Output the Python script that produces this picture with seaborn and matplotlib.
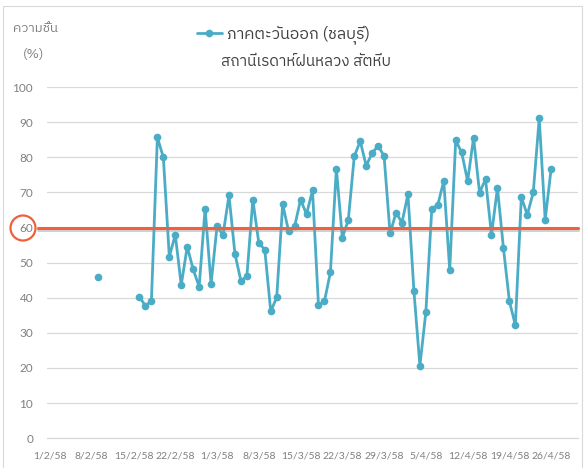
import numpy as np
import pandas as pd
import matplotlib
matplotlib.use("Agg")
import matplotlib.pyplot as plt
import matplotlib.patheffects as pe
from matplotlib.patches import Ellipse, Rectangle
from matplotlib import font_manager as fm
import seaborn as sns

# ความชื้นสัมพัทธ์ (%) สถานีเรดาห์ฝนหลวง สัตหีบ (ก.พ. - เม.ย. 2558)
single_day = "2015-02-09"
single_value = 46
run_start = "2015-02-16"
run_values = [
    40.2, 37.7, 39.1, 85.7, 80.0, 51.7, 57.9, 43.6, 54.5, 48.1,
    43.1, 65.4, 43.9, 60.4, 57.8, 69.2, 52.5, 44.8, 46.1, 67.9,
    55.6, 53.7, 36.1, 40.1, 66.6, 58.9, 60.3, 67.9, 63.8, 70.6,
    37.9, 39.0, 47.2, 76.8, 57.1, 62.1, 80.3, 84.6, 77.6, 81.2,
    83.3, 80.3, 58.3, 64.2, 61.4, 69.5, 41.9, 20.6, 35.9, 65.4,
    66.4, 73.3, 47.9, 84.8, 81.4, 73.2, 85.6, 69.9, 73.8, 57.9,
    71.3, 54.2, 39.0, 32.2, 68.7, 63.6, 70.0, 91.1, 62.2, 76.8,
]
axis_start = "2015-02-01"
axis_end = "2015-04-30"
tick_labels = ["1/2/58", "8/2/58", "15/2/58", "22/2/58", "1/3/58", "8/3/58",
               "15/3/58", "22/3/58", "29/3/58", "5/4/58", "12/4/58",
               "19/4/58", "26/4/58"]
y_ticks = [0, 10, 20, 30, 40, 50, 60, 70, 80, 90, 100]
threshold = 60

legend_label = "ภาคตะวันออก (ชลบุรี)"
title_text = "สถานีเรดาห์ฝนหลวง สัตหีบ"
ylabel_top = "ความชื้น"
ylabel_bottom = "(%)"

LINE = "#4BACC6"
RED = "#F0603C"
GRID = "#D9D9D9"
GREY = "#808080"
DARK = "#404040"


def find_thai_font():
    """หาฟอนต์ที่มีอักษรไทยในเครื่อง"""
    try:
        from fontTools.ttLib import TTFont
    except ImportError:
        return None
    found = []
    for f in fm.fontManager.ttflist:
        try:
            cmap = TTFont(f.fname, fontNumber=0, lazy=True).getBestCmap()
        except Exception:
            continue
        if cmap and 0x0E01 in cmap and 0x0E27 in cmap:
            found.append(f.name)
    if not found:
        return None
    pref = [n for n in found if "Thai" in n and "Looped" not in n]
    return (pref or found)[0]


thai = find_thai_font()
sns.set_style("white")
num_family = ["Lato", "DejaVu Sans"]
text_family = ([thai] if thai else []) + ["Noto Sans", "DejaVu Sans"]
plt.rcParams["font.family"] = num_family

run_dates = pd.date_range(run_start, periods=len(run_values), freq="D")
df = pd.DataFrame({
    "date": [pd.Timestamp(single_day)] + list(run_dates),
    "rh": [single_value] + run_values,
    "seg": [0] + [1] * len(run_values),
})

fig = plt.figure(figsize=(5.85, 4.68), dpi=100)
ax = fig.add_axes([47 / 585, 1 - 438.1 / 468, 531 / 585, 351 / 468])

sns.lineplot(data=df, x="date", y="rh", units="seg", estimator=None,
             color=LINE, lw=2.0, marker="o", markersize=5.5,
             markeredgecolor=LINE, markeredgewidth=0, ax=ax, legend=False)
series_line = ax.lines[-1]

ax.axhline(threshold, xmin=-0.017, xmax=1.0, color=RED, lw=2.2, clip_on=False,
           zorder=5,
           path_effects=[pe.SimpleLineShadow(offset=(0, -1.5), shadow_color="#999999", alpha=0.45),
                         pe.Normal()])

ax.set_ylim(0, 100)
ax.set_yticks(y_ticks)
ax.set_xlim(pd.Timestamp(axis_start) - pd.Timedelta(hours=12),
            pd.Timestamp(axis_end) + pd.Timedelta(hours=12))
tick_dates = pd.date_range(axis_start, periods=len(tick_labels), freq="7D")
ax.set_xticks(tick_dates)
ax.set_xticklabels(tick_labels)
ax.set_xlabel("")
ax.set_ylabel("")

ax.yaxis.grid(True, color=GRID, lw=0.9)
ax.xaxis.grid(False)
for s in ["top", "right", "left"]:
    ax.spines[s].set_visible(False)
ax.spines["bottom"].set_color(GRID)
ax.spines["bottom"].set_linewidth(0.9)
ax.tick_params(axis="both", length=0, colors=GREY, labelsize=8.5)
ax.tick_params(axis="x", labelsize=7.5, pad=10)
ax.tick_params(axis="y", pad=10)

# วงกลมรอบค่า 60
fig.add_artist(Ellipse((23 / 585, 1 - 228 / 468), 25 / 585, 25 / 468,
                       transform=fig.transFigure, fill=False, ec=RED, lw=1.6))

# หัวข้อและคำอธิบาย
leg = fig.legend(handles=[series_line], labels=[legend_label],
                 loc="center left", bbox_to_anchor=(197 / 585, 1 - 35 / 468),
                 frameon=False, borderpad=0, borderaxespad=0,
                 handlelength=1.55, handletextpad=0.3,
                 prop={"family": text_family, "size": 11.5})
for t in leg.get_texts():
    t.set_color(DARK)
fig.text(221 / 585, 1 - 62 / 468, title_text, ha="left", va="center",
         color=DARK, fontsize=11, family=text_family)
fig.text(35 / 585, 1 - 28 / 468, ylabel_top, ha="center", va="center",
         color=GREY, fontsize=9.5, family=text_family)
fig.text(34 / 585, 1 - 54 / 468, ylabel_bottom, ha="center", va="center",
         color=GREY, fontsize=9.5, family=text_family)

# กรอบแผนภูมิ
fig.add_artist(Rectangle((3 / 585, -0.02), 579 / 585, 1 - 5.5 / 468 + 0.02,
                         transform=fig.transFigure, fill=False, ec=GRID, lw=0.8))

fig.savefig("out.png", dpi=100)
